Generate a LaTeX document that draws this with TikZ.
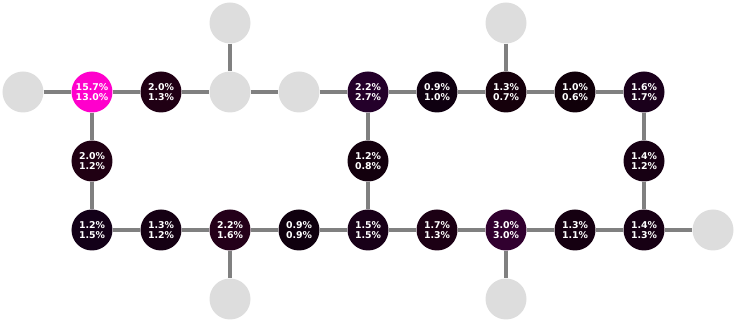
\documentclass[tikz,border=0pt]{standalone}
\usepackage{fontspec}
\setmainfont{DejaVu Sans}
\usetikzlibrary{backgrounds}

\definecolor{linkgray}{RGB}{128,128,128}
\definecolor{padgray}{RGB}{221,221,221}

\tikzset{
  site/.style={circle, minimum size=1.23cm, inner sep=0pt, text=white, align=center,
    font=\fontsize{8}{9}\selectfont\bfseries},
  pad/.style={circle, minimum size=1.23cm, inner sep=0pt, fill=padgray},
  link/.style={draw=linkgray, line width=3.4pt},
}

\begin{document}
\begin{tikzpicture}[x=2.07cm, y=-2.07cm]
  \useasboundingbox (-0.3333,-0.3333) rectangle (10.3478,4.3333);

  % occupied sites: column / row / first share / second share
  \foreach \cx/\cy/\va/\vb in {1/1/15.7/13.0, 2/1/2.0/1.3, 5/1/2.2/2.7, 6/1/0.9/1.0,
      7/1/1.3/0.7, 8/1/1.0/0.6, 9/1/1.6/1.7, 1/2/2.0/1.2, 5/2/1.2/0.8, 9/2/1.4/1.2,
      1/3/1.2/1.5, 2/3/1.3/1.2, 3/3/2.2/1.6, 4/3/0.9/0.9, 5/3/1.5/1.5, 6/3/1.7/1.3,
      7/3/3.0/3.0, 8/3/1.3/1.1, 9/3/1.4/1.3} {
    \pgfmathtruncatemacro\rr{round(\va/15.7*255)}
    \pgfmathtruncatemacro\bb{round(\vb/16.25*255)}
    \definecolor{sitefill}{RGB}{\rr,0,\bb}
    \node[site, fill=sitefill] (s\cx-\cy) at (\cx,\cy) {\va\%\\\vb\%};
  }

  % empty sites
  \foreach \cx/\cy in {3/0, 7/0, 0/1, 3/1, 4/1, 10/3, 3/4, 7/4}
    \node[pad] (s\cx-\cy) at (\cx,\cy) {};

  % bonds
  \begin{scope}[on background layer]
    \foreach \cx [evaluate=\cx as \nx using int(\cx+1)] in {0,...,8}
      \draw[link] (s\cx-1) -- (s\nx-1);
    \foreach \cx [evaluate=\cx as \nx using int(\cx+1)] in {1,...,9}
      \draw[link] (s\cx-3) -- (s\nx-3);
    \foreach \cx in {1,5,9} {
      \draw[link] (s\cx-1) -- (s\cx-2);
      \draw[link] (s\cx-2) -- (s\cx-3);
    }
    \foreach \cx in {3,7} {
      \draw[link] (s\cx-0) -- (s\cx-1);
      \draw[link] (s\cx-3) -- (s\cx-4);
    }
  \end{scope}
\end{tikzpicture}
\end{document}
